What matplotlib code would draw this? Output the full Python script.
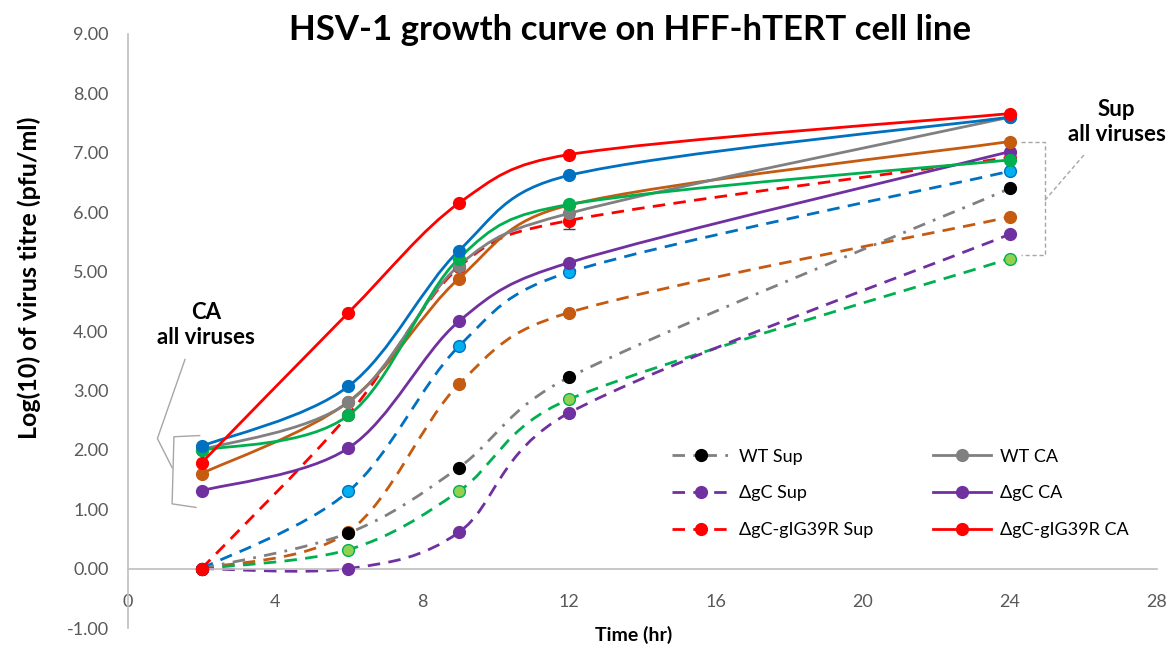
#HSV-1 growth curve on HFF-hTERT cells, Excel style smoothed lines
#python3 plot.py  -> out.png

import numpy as np
import matplotlib
matplotlib.use('Agg')
import matplotlib.pyplot as plt
from matplotlib.path import Path
from matplotlib.patches import PathPatch
from matplotlib.lines import Line2D

plt.rcParams['font.family'] = ['Lato', 'DejaVu Sans']

#======================= Data ===================
time = [2, 6, 9, 12, 24]

wt_sup = [0.00, 0.60, 1.70, 3.22, 6.40]
wt_ca = [2.00, 2.80, 5.10, 5.98, 7.60]
dgc_sup = [0.00, 0.00, 0.61, 2.62, 5.63]
dgc_ca = [1.31, 2.03, 4.16, 5.15, 7.02]
g39r_sup = [0.00, 2.59, 5.07, 5.86, 6.92]
g39r_ca = [1.78, 4.31, 6.15, 6.97, 7.66]
# series without legend entry
blue_sup = [0.00, 1.30, 3.74, 4.99, 6.69]
blue_ca = [2.06, 3.07, 5.35, 6.62, 7.60]
green_sup = [0.00, 0.32, 1.30, 2.85, 5.22]
green_ca = [1.99, 2.58, 5.22, 6.13, 6.88]
orange_sup = [0.00, 0.62, 3.10, 4.31, 5.92]
orange_ca = [1.60, 2.81, 4.88, 6.12, 7.19]

g39r_sup_err = [0, 0, 0, 0.15, 0]

x_ticks = [0, 4, 8, 12, 16, 20, 24, 28]
y_ticks = [-1, 0, 1, 2, 3, 4, 5, 6, 7, 8, 9]

#======================= Styles ===================
gray = '#808080'
purple = '#7030A0'
red = '#FF0000'
blue = '#0070C0'
green = '#00B050'
orange = '#C55A11'
sup_dash = (0, (4.5, 3.0))
dash_dot = (0, (4.5, 3.0, 1.0, 3.0))
lw = 2.0
ms = 8.5

# (values, line colour, marker colour, linestyle, label)
series = [
    (orange_sup, orange, orange, sup_dash, None),
    (green_sup, green, '#92D050', sup_dash, None),
    (blue_sup, blue, '#00B0F0', sup_dash, None),
    (wt_sup, gray, 'black', dash_dot, 'WT Sup'),
    (dgc_sup, purple, purple, sup_dash, '\u0394gC Sup'),
    (g39r_sup, red, red, sup_dash, '\u0394gC-gIG39R Sup'),
    (dgc_ca, purple, purple, '-', '\u0394gC CA'),
    (orange_ca, orange, orange, '-', None),
    (wt_ca, gray, gray, '-', 'WT CA'),
    (green_ca, green, green, '-', None),
    (blue_ca, blue, blue, '-', None),
    (g39r_ca, red, red, '-', '\u0394gC-gIG39R CA'),
]

fig_w, fig_h = 11.69, 6.51
ax_rect = [0.1095, 0.0353, 0.8802, 0.9125]
x_lim = (0, 28)
y_lim = (-1, 9)
#pixel per data unit, used so the smoothing is done in screen space like excel
sx = ax_rect[2] * fig_w * 100 / (x_lim[1] - x_lim[0])
sy = ax_rect[3] * fig_h * 100 / (y_lim[1] - y_lim[0])


def smooth_path(x, y, f=1.0 / 6):
    #excel "smoothed line": bezier, control arm limited to half the segment
    pts = np.column_stack([np.asarray(x) * sx, np.asarray(y) * sy]).astype(float)
    ext = np.vstack([pts[0], pts, pts[-1]])
    verts = [pts[0]]
    codes = [Path.MOVETO]
    for i in range(len(pts) - 1):
        p0, p1, p2, p3 = ext[i], ext[i + 1], ext[i + 2], ext[i + 3]
        d12 = np.hypot(*(p2 - p1))
        d02 = np.hypot(*(p2 - p0))
        d13 = np.hypot(*(p3 - p1))
        f1 = f if d02 * f <= d12 / 2 else d12 / (2 * d02)
        f2 = f if d13 * f <= d12 / 2 else d12 / (2 * d13)
        c1 = p1 + (p2 - p0) * f1
        c2 = p2 - (p3 - p1) * f2
        verts += [c1, c2, p2]
        codes += [Path.CURVE4] * 3
    verts = np.array(verts) / [sx, sy]
    return Path(verts, codes)


#======================= Plot ===================
fig = plt.figure(figsize=(fig_w, fig_h), dpi=100)
ax = fig.add_axes(ax_rect)

for vals, col, mcol, ls, lab in series:
    patch = PathPatch(smooth_path(time, vals), fill=False, edgecolor=col,
                      linewidth=lw, linestyle=ls, capstyle='butt', zorder=2)
    ax.add_patch(patch)
    ax.plot(time, vals, linestyle='none', marker='o', markersize=ms,
            markerfacecolor=mcol, markeredgecolor=col if mcol != 'black' else 'black',
            markeredgewidth=1.0, zorder=3)

ax.errorbar([time[3]], [g39r_sup[3]], yerr=[g39r_sup_err[3]], fmt='none',
            ecolor='#404040', elinewidth=1.0, capsize=4, zorder=2.5)

ax.set_xlim(*x_lim)
ax.set_ylim(*y_lim)
ax.set_xticks(x_ticks)
ax.set_yticks(y_ticks)
ax.set_yticklabels(['%.2f' % v for v in y_ticks])
ax.tick_params(axis='both', length=0, labelsize=13, colors='#595959')
ax.tick_params(axis='x', pad=18)
ax.tick_params(axis='y', pad=14)

for s in ['top', 'right']:
    ax.spines[s].set_visible(False)
ax.spines['bottom'].set_position(('data', 0))
ax.spines['bottom'].set_color('#BFBFBF')
ax.spines['left'].set_color('#BFBFBF')
ax.spines['bottom'].set_linewidth(1.2)
ax.spines['left'].set_linewidth(1.2)

fig.text(630 / 1169, 1 - 30 / 651, 'HSV-1 growth curve on HFF-hTERT cell line',
         fontsize=25, fontweight='bold', ha='center', va='center')
ax.set_ylabel('Log(10) of virus titre (pfu/ml)', fontsize=18, fontweight='bold')
ax.yaxis.set_label_coords(-0.085, 0.59)
fig.text(634 / 1169, 1 - 635 / 651, 'Time (hr)', fontsize=14, fontweight='bold',
         ha='center', va='center')

#======================= Annotations ===================
ax.text(2.12, 4.10, 'CA\nall viruses', fontsize=16, fontweight='bold', ha='center',
        va='center', linespacing=1.2)
ann = dict(color='#A6A6A6', linewidth=1.0)
ax.plot([1.55, 0.80, 1.20], [3.52, 2.19, 1.70], **ann)
ax.plot([1.95, 1.25, 1.20, 1.85], [2.24, 2.22, 1.09, 1.03], **ann)

ax.text(26.9, 7.52, 'Sup\nall viruses', fontsize=16, fontweight='bold', ha='center',
        va='center', linespacing=1.2)
ann2 = dict(color='#A6A6A6', linewidth=1.0, linestyle=(0, (3, 2)))
ax.plot([24.3, 24.95, 24.95, 24.3], [7.19, 7.19, 5.28, 5.28], **ann2)
ax.plot([24.95, 26.05], [6.20, 6.99], **ann2)

#======================= Legend ===================
handles = {}
for vals, col, mcol, ls, lab in series:
    if lab is not None:
        handles[lab] = Line2D([], [], color=col, linestyle=ls, linewidth=lw,
                              marker='o', markersize=ms, markerfacecolor=mcol,
                              markeredgecolor=mcol)
order = ['WT Sup', '\u0394gC Sup', '\u0394gC-gIG39R Sup', 'WT CA', '\u0394gC CA', '\u0394gC-gIG39R CA']
ax.legend([handles[k] for k in order], order, ncol=2, loc='lower left',
          bbox_to_anchor=(0.513, 0.124), frameon=False, fontsize=13,
          handlelength=3.2, columnspacing=3.3, labelspacing=1.15, handletextpad=0.5)

plt.savefig('out.png', dpi=100)
plt.close()
